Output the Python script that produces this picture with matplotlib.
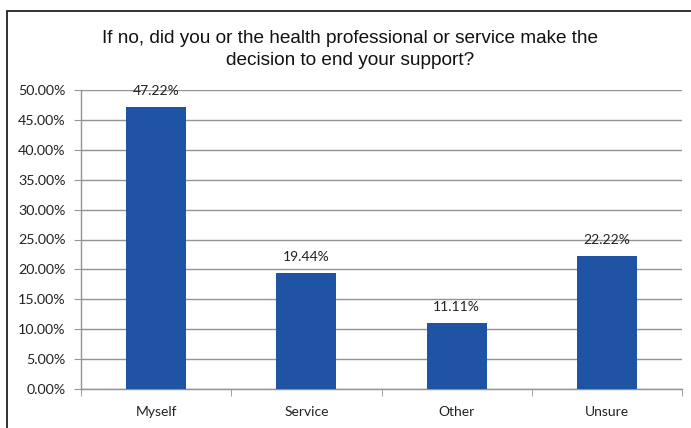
import matplotlib
matplotlib.use("Agg")
import matplotlib.pyplot as plt
from matplotlib.patches import Rectangle
from matplotlib.ticker import FuncFormatter, MultipleLocator

categories = ["Myself", "Service", "Other", "Unsure"]
values = [47.22, 19.44, 11.11, 22.22]
title = "If no, did you or the health professional or service make the\ndecision to end your support?"

bar_color = "#1f54a4"
grid_color = "#939393"

fig = plt.figure(figsize=(6.91, 4.28), dpi=100)
fig.patch.set_facecolor("white")

# Outer chart border (runs off the right and bottom edges)
fig.patches.append(Rectangle((7 / 691, -0.05), 1.05, 1.05 - 11 / 428,
                             transform=fig.transFigure, fill=False,
                             edgecolor="#222222", linewidth=1.3))

ax = fig.add_axes([81 / 691, 1 - 389 / 428, 601 / 691, 299 / 428])
x = list(range(len(categories)))
bars = ax.bar(x, values, width=0.4, color=bar_color, zorder=3)

ax.set_xlim(-0.5, len(categories) - 0.5)
ax.set_ylim(0, 50)
ax.yaxis.set_major_locator(MultipleLocator(5))
ax.yaxis.set_major_formatter(FuncFormatter(lambda v, _: f"{v:.2f}%"))
ax.grid(axis="y", color=grid_color, linewidth=1, zorder=0)

for spine in ["top", "right"]:
    ax.spines[spine].set_visible(False)
for spine in ["left", "bottom"]:
    ax.spines[spine].set_color(grid_color)
    ax.spines[spine].set_linewidth(1)

ax.set_xticks(x)
ax.set_xticklabels(categories)
ax.set_xticks([i - 0.5 for i in range(len(categories) + 1)], minor=True)
ax.tick_params(axis="x", which="major", length=0, pad=12, labelsize=10,
               labelcolor="#222222")
ax.tick_params(axis="x", which="minor", length=5, color=grid_color, direction="out")
ax.tick_params(axis="y", length=5, color=grid_color, labelsize=10.3,
               labelcolor="#222222", pad=6)
for lbl in ax.get_xticklabels() + ax.get_yticklabels():
    lbl.set_family(["Lato", "DejaVu Sans"])

for xi, v in zip(x, values):
    ax.annotate(f"{v:.2f}%", (xi, v), xytext=(0, 7), textcoords="offset points",
                ha="center", va="bottom", fontsize=10, color="#222222",
                family=["Lato", "DejaVu Sans"])

fig.text(350 / 691, 1 - 49.5 / 428, title, ha="center", va="center",
         fontsize=13.7, linespacing=1.4, color="#111111",
         family=["Liberation Sans Narrow", "Liberation Sans", "DejaVu Sans"])

fig.savefig("out.png", dpi=100)
